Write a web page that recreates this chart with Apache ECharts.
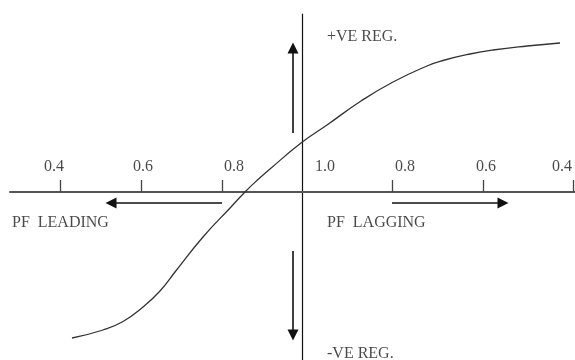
<!DOCTYPE html>
<html>
<head>
<meta charset="utf-8">
<script src="https://cdn.jsdelivr.net/npm/echarts@6/dist/echarts.min.js"></script>
<style>
  html, body { margin: 0; padding: 0; background: #fff; }
  #chart { width: 575px; height: 360px; }
</style>
</head>
<body>
<div id="chart"></div>
<script>
// Excitation curve: regulation vs. power factor (leading left, lagging right)
// Coordinates: x = position along the PF axis, y = regulation (origin at axes crossing)
const curveX = [-230, -199, -179, -159, -142, -127, -99, -71, -57, -44, -32, -1, 25, 59, 91, 125, 141, 168, 191, 225, 258];
const curveY = [-146, -138, -129.5, -115, -99, -80, -45, -15, 0, 12.5, 23, 49, 67, 91, 110, 126, 131.5, 138, 142, 146, 149];

// PF scale ticks and their labels
const tickValues = [-242, -161, -80, 90, 181, 271];
const tickLabelX = [-248, -159, -68, 23, 103, 184, 260];
const tickLabelText = ['0.4', '0.6', '0.8', '1.0', '0.8', '0.6', '0.4'];
const tickLabelY = 25;

// Direction arrows: [x1, y1, x2, y2]
const arrows = [
  [-80, -11, -191, -11],   // towards leading
  [90, -11, 201, -11],     // towards lagging
  [-9, 59, -9, 144],       // positive regulation
  [-9, -59, -9, -143]      // negative regulation
];

// Region captions: [x, y, text]
const captions = [
  [-290, -31, 'PF  LEADING'],
  [25, -31, 'PF  LAGGING'],
  [25, 155, '+VE REG.'],
  [25, -162, '-VE REG.']
];

const FONT = '"Liberation Serif", "Times New Roman", serif';
const chart = echarts.init(document.getElementById('chart'), null, { renderer: 'canvas' });

chart.setOption({
  backgroundColor: '#ffffff',
  animation: false,
  grid: { left: 10, right: 0, top: 14, bottom: 0 },
  xAxis: {
    type: 'value', min: -292, max: 273,
    axisLine: { onZero: true, lineStyle: { color: '#555', width: 2 } },
    axisTick: { show: true, inside: true, length: 12, customValues: tickValues, lineStyle: { color: '#444', width: 1.3 } },
    axisLabel: { show: false },
    splitLine: { show: false }
  },
  yAxis: {
    type: 'value', min: -168, max: 178,
    axisLine: { onZero: true, lineStyle: { color: '#111', width: 1.2 } },
    axisTick: { show: false },
    axisLabel: { show: false },
    splitLine: { show: false }
  },
  series: [
    {
      type: 'line',
      data: curveX.map((x, i) => [x, curveY[i]]),
      smooth: 0.5,
      showSymbol: false,
      lineStyle: { color: '#333', width: 1.3 },
      z: 3
    },
    {
      type: 'lines',
      coordinateSystem: 'cartesian2d',
      symbol: ['none', 'triangle'],
      symbolSize: 11,
      lineStyle: { color: '#111', width: 1.6, opacity: 1 },
      itemStyle: { color: '#111' },
      data: arrows.map(a => ({ coords: [[a[0], a[1]], [a[2], a[3]]] })),
      z: 4
    },
    {
      type: 'scatter',
      symbolSize: 0,
      data: tickLabelX.map((x, i) => ({ value: [x, tickLabelY], name: tickLabelText[i] })),
      label: {
        show: true, position: 'inside',
        formatter: p => p.name,
        color: '#1a1a1a', fontFamily: FONT, fontSize: 16
      },
      z: 5
    },
    {
      type: 'scatter',
      symbolSize: 0,
      data: captions.map(c => ({ value: [c[0], c[1]], name: c[2] })),
      label: {
        show: true, position: 'right', distance: 0,
        formatter: p => p.name,
        color: '#1a1a1a', fontFamily: FONT, fontSize: 16
      },
      z: 5
    }
  ]
});
</script>
</body>
</html>
